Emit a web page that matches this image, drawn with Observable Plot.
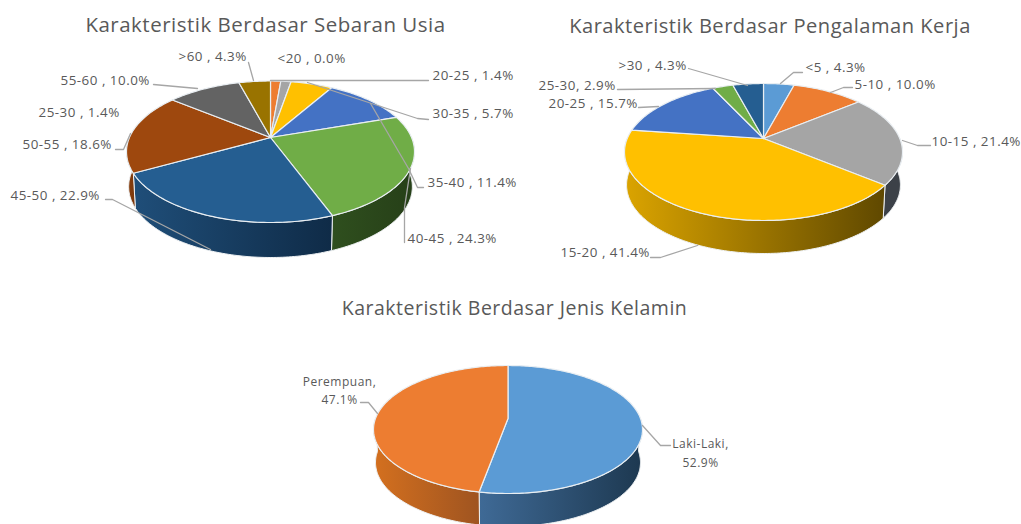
<!DOCTYPE html>
<html>
<head>
<meta charset="utf-8">
<script src="https://cdn.jsdelivr.net/npm/d3@7"></script>
<script src="https://cdn.jsdelivr.net/npm/@observablehq/plot@0.6"></script>
<style>html,body{margin:0;background:#fff}svg{display:block}</style>
</head>
<body>
<div id="chart"></div>
<script>
// ---- data ----
const ageTitle = "Karakteristik Berdasar Sebaran Usia";
const ageCategories = ["<20","20-25","25-30","30-35","35-40","40-45","45-50","50-55","55-60",">60"];
const ageValues = [0.0,1.4,1.4,5.7,11.4,24.3,22.9,18.6,10.0,4.3];
const ageColors = ["#5b9bd5","#ed7d31","#a5a5a5","#ffc000","#4472c4","#70ad47","#255e91","#9e480e","#636363","#997300"];
const ageSides = [null,null,null,null,null,["#2f4f1e","#263f18"],["#1f4e79","#0f2b47"],["#8a3f0d","#7a370b"],null,null];

const workTitle = "Karakteristik Berdasar Pengalaman Kerja";
const workCategories = ["<5","5-10","10-15","15-20","20-25","25-30",">30"];
const workValues = [4.3,10.0,21.4,41.4,15.7,2.9,4.3];
const workColors = ["#5b9bd5","#ed7d31","#a5a5a5","#ffc000","#4472c4","#70ad47","#255e91"];
const workSides = [null,null,["#3c4148","#3c4148"],["#dba400","#5f4800"],null,null,null];

const genderTitle = "Karakteristik Berdasar Jenis Kelamin";
const genderCategories = ["Laki-Laki","Perempuan"];
const genderValues = [52.9,47.1];
const genderColors = ["#5b9bd5","#ed7d31"];
const genderSides = [["#3f6a96","#1d3850"],["#d4701f","#9f5420"]];

// ---- layout ----
const ink = "#595959";
const leaderInk = "#a6a6a6";
const agePie = {cx:270, apex:137, top:80.5, front:222, rx:144, depth:35, id:"a"};
const workPie = {cx:763, apex:138, top:83, front:220, rx:139, depth:33, id:"w"};
const genderPie = {cx:507.5, apex:418, top:365, front:493, rx:134.5, depth:33, id:"g"};

const titlePlaces = [
  {text:ageTitle, x:265, y:25, size:20.5},
  {text:workTitle, x:769.5, y:26, size:20.1},
  {text:genderTitle, x:514, y:308, size:19.5}
];
const labelPlaces = [
  {t:">60 , 4.3%", x:178, y:56},
  {t:"<20 , 0.0%", x:277, y:58},
  {t:"20-25 , 1.4%", x:432, y:75},
  {t:"30-35 , 5.7%", x:432, y:113},
  {t:"35-40 , 11.4%", x:427, y:182},
  {t:"40-45 , 24.3%", x:407, y:238},
  {t:"45-50 , 22.9%", x:10, y:195},
  {t:"50-55 , 18.6%", x:22, y:144},
  {t:"25-30 , 1.4%", x:38, y:112},
  {t:"55-60 , 10.0%", x:60, y:80},
  {t:">30 , 4.3%", x:618, y:65},
  {t:"<5 , 4.3%", x:805, y:67},
  {t:"5-10 , 10.0%", x:854, y:84},
  {t:"10-15 , 21.4%", x:931, y:141},
  {t:"25-30, 2.9%", x:538, y:85},
  {t:"20-25 , 15.7%", x:548, y:103},
  {t:"15-20 , 41.4%", x:560, y:252}
];
const centeredLabelPlaces = [
  {t:"Perempuan,\n47.1%", x:339, y:388.5},
  {t:"Laki-Laki,\n52.9%", x:700, y:451}
];
const leaderPaths = [
  [[253,80],[248,62]],
  [[270,80],[428,80]],
  [[307,82],[417,118],[428,119]],
  [[370,103],[408,168],[417,187],[423,187]],
  [[410,168],[404,207],[404,242]],
  [[105,199],[112,199],[210,249]],
  [[115,149],[123,149],[130,133]],
  [[153,84],[197,88]],
  [[688,68],[747,85]],
  [[780,83],[793,72],[802,72]],
  [[830,92],[843,87],[852,87]],
  [[902,140],[917,145],[930,145]],
  [[617,89],[715,88]],
  [[638,107],[658,106]],
  [[650,257],[660,257],[697,245]],
  [[360,402],[368,402],[377,413]],
  [[642,425],[660,445],[670,445]]
];

// ---- geometry derived from the values ----
function projector(p) {
  const a = p.apex - p.top, b = p.front - p.apex;
  const k = (b - a) / (a + b);
  const B = 2 * a * b / (a + b);
  const A = p.rx * Math.sqrt(1 - k * k);
  return (deg, lower) => {
    const r = deg * Math.PI / 180, u = Math.sin(r), v = Math.cos(r), w = 1 + k * v;
    const s = lower ? 0.985 : 1;
    return {x: p.cx + s * A * u / w, y: p.apex - B * v / w + (lower ? p.depth : 0)};
  };
}
function sweep(a0, a1) {
  const out = [];
  for (let d = a0; d < a1; d += 1) out.push(d);
  out.push(a1);
  return out;
}
function pieMarks(p, values, colors, sides) {
  const at = projector(p);
  const total = d3.sum(values);
  let run = 0;
  const slices = values.map((v, i) => {
    const a0 = run / total * 360; run += v;
    return {i, a0, a1: run / total * 360, color: colors[i], side: sides[i]};
  }).filter(s => s.a1 > s.a0);
  const marks = [];
  for (const s of slices) {
    if (!s.side) continue;
    const a0 = Math.max(s.a0, 90), a1 = Math.min(s.a1, 270);
    if (a1 <= a0) continue;
    const rows = [...sweep(a0, a1).map(d => at(d, false)), ...sweep(a0, a1).reverse().map(d => at(d, true))];
    rows.push(rows[0]);
    marks.push(Plot.line(rows, {x:"x", y:"y", fill:`url(#${p.id}${s.i})`, stroke:"#eef1f3", strokeWidth:1, curve:"linear"}));
  }
  for (const s of slices) {
    const c = {x:p.cx, y:p.apex};
    const rows = [c, ...sweep(s.a0, s.a1).map(d => at(d, false)), c];
    marks.push(Plot.line(rows, {x:"x", y:"y", fill:s.color, stroke:"#e9eef2", strokeWidth:1.2, curve:"linear"}));
  }
  return marks;
}
function gradientDefs(p, sides) {
  return sides.map((c, i) => c ? `<linearGradient id="${p.id}${i}" x1="0" x2="1" y1="0" y2="0"><stop offset="0" stop-color="${c[0]}"/><stop offset="1" stop-color="${c[1]}"/></linearGradient>` : "").join("");
}

const svg = Plot.plot({
  width:1021, height:524,
  marginTop:0, marginRight:0, marginBottom:0, marginLeft:0,
  x:{domain:[0,1021], range:[0,1021], axis:null},
  y:{domain:[0,524], range:[0,524], axis:null},
  style:{background:"#fff", fontFamily:"'Open Sans'", letterSpacing:"0.5px"},
  marks:[
    ...pieMarks(agePie, ageValues, ageColors, ageSides),
    ...pieMarks(workPie, workValues, workColors, workSides),
    ...pieMarks(genderPie, genderValues, genderColors, genderSides),
    ...leaderPaths.map(path => Plot.line(path, {x:d=>d[0], y:d=>d[1], stroke:leaderInk, strokeWidth:1.3, curve:"linear"})),
    Plot.text(labelPlaces, {x:"x", y:"y", text:"t", textAnchor:"start", fill:ink, fontSize:13.4}),
    Plot.text(centeredLabelPlaces, {x:"x", y:"y", text:"t", textAnchor:"middle", fill:ink, fontSize:12, lineHeight:1.55}),
    ...titlePlaces.map(t => Plot.text([t], {x:"x", y:"y", text:"text", fill:ink, fontSize:t.size, textAnchor:"middle"}))
  ]
});
const defs = document.createElementNS("http://www.w3.org/2000/svg","defs");
defs.innerHTML = gradientDefs(agePie, ageSides) + gradientDefs(workPie, workSides) + gradientDefs(genderPie, genderSides);
svg.insertBefore(defs, svg.firstChild);
document.getElementById("chart").appendChild(svg);
</script>
</body>
</html>
